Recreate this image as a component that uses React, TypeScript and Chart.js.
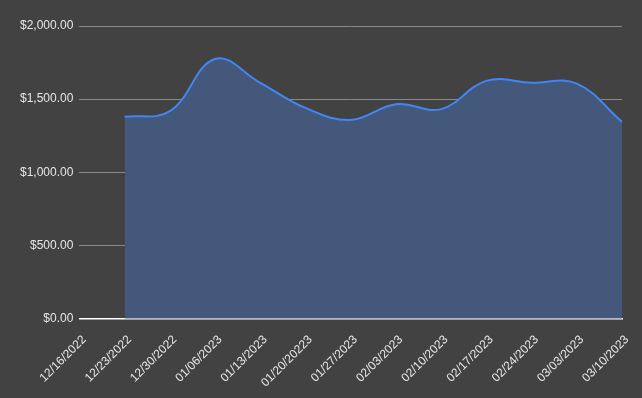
import React, { useEffect, useRef } from "react";
import { Chart, registerables } from "chart.js";

Chart.register(...registerables);

const categories = [
  "12/16/2022", "12/23/2022", "12/30/2022", "01/06/2023", "01/13/2023", "01/20/20223",
  "01/27/2023", "02/03/2023", "02/10/2023", "02/17/2023", "02/24/2023", "03/03/2023", "03/10/2023",
];
const values: (number | null)[] = [
  null, 1380, 1418, 1775, 1612, 1440, 1358, 1466, 1432, 1625, 1612, 1606, 1345,
];
const yTicks = [0, 500, 1000, 1500, 2000];

const fmt = (v: number) =>
  "$" + v.toLocaleString("en-US", { minimumFractionDigits: 2, maximumFractionDigits: 2 });

export default function App() {
  const ref = useRef<HTMLCanvasElement | null>(null);
  useEffect(() => {
    document.body.style.margin = "0";
    const chart = new Chart(ref.current!, {
      type: "line",
      data: {
        labels: categories,
        datasets: [
          {
            data: values,
            borderColor: "#4285f4",
            backgroundColor: "#43587a",
            borderWidth: 2,
            fill: "origin",
            tension: 0.4,
            pointRadius: 0,
            spanGaps: false,
          },
        ],
      },
      options: {
        animation: false,
        responsive: false,
        maintainAspectRatio: false,
        layout: { padding: { top: 26, right: 20, left: 14, bottom: 2 } },
        plugins: { legend: { display: false }, tooltip: { enabled: false } },
        scales: {
          x: {
            grid: { display: false },
            border: { color: "#ffffff", width: 1.5 },
            ticks: {
              color: "#e6e6e6",
              font: { family: "Liberation Sans", size: 12 },
              maxRotation: 45,
              minRotation: 45,
              autoSkip: false,
              padding: 6,
              labelOffset: 5,
            },
          },
          y: {
            min: 0,
            max: 2000,
            afterBuildTicks: (axis: any) => {
              axis.ticks = yTicks.map((v) => ({ value: v }));
            },
            grid: { color: "#8a8a8a", drawTicks: false },
            border: { display: false },
            ticks: {
              color: "#e6e6e6",
              padding: 6,
              font: { family: "Liberation Sans", size: 12 },
              callback: (v: any) => fmt(Number(v)),
            },
          },
        },
      },
    });
    return () => chart.destroy();
  }, []);
  return (
    <div style={{ width: 642, height: 398, background: "#424242" }}>
      <canvas ref={ref} width={642} height={398} />
    </div>
  );
}
